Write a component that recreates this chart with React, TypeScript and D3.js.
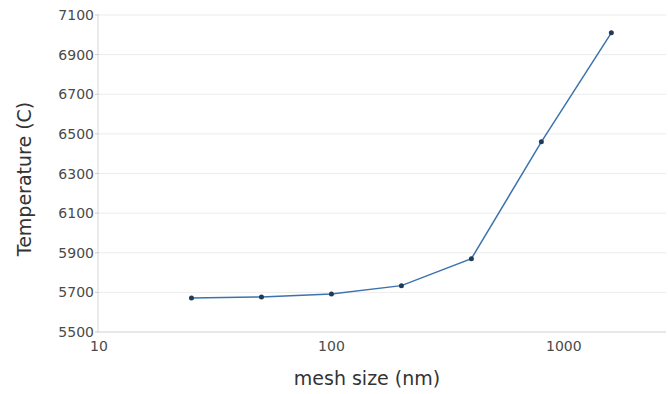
import React from "react";
import * as d3 from "d3";

const meshSizes = [25, 50, 100, 200, 400, 800, 1600];
const temperatures = [5672, 5677, 5692, 5734, 5870, 6460, 7010];
const yTicks = [5500, 5700, 5900, 6100, 6300, 6500, 6700, 6900, 7100];
const xTicks = [10, 100, 1000];

const W = 668;
const H = 394;
const left = 99;
const right = 666;
const top = 15;
const bottom = 332;

export default function App() {
  const x = d3.scaleLog().domain([10, 2750]).range([left, right]);
  const y = d3.scaleLinear().domain([5500, 7100]).range([bottom, top]);
  const pts = meshSizes.map((m, i) => [x(m), y(temperatures[i])] as [number, number]);
  const line = d3.line()(pts) || "";
  const font = "'DejaVu Sans', sans-serif";
  return (
    <svg width={W} height={H} style={{ position: "absolute", left: 0, top: 0, background: "#fff" }}>
      {yTicks.map((t) => (
        <g key={t}>
          <line x1={left} x2={right} y1={y(t)} y2={y(t)} stroke={t === 5500 ? "#d0d0d0" : "#ececec"} strokeWidth={1} />
          <line x1={left - 4} x2={left} y1={y(t)} y2={y(t)} stroke="#ccc" />
          <text x={left - 5} y={y(t)} dy="0.36em" textAnchor="end" fontFamily={font} fontSize={14} fill="#4a4a4a">
            {t}
          </text>
        </g>
      ))}
      <line x1={left - 1} x2={left - 1} y1={top} y2={bottom} stroke="#d6d6d6" />
      {xTicks.map((t) => (
        <text key={t} x={x(t)} y={bottom + 19} textAnchor="middle" fontFamily={font} fontSize={14} fill="#4a4a4a">
          {t}
        </text>
      ))}
      <path d={line} fill="none" stroke="#3d73ad" strokeWidth={1.5} />
      {pts.map((p, i) => (
        <circle key={i} cx={p[0]} cy={p[1]} r={2.5} fill="#1f3b5c" />
      ))}
      <text x={367} y={385} textAnchor="middle" fontFamily={font} fontSize={19} fill="#333">
        mesh size (nm)
      </text>
      <text
        transform={`translate(31,179) rotate(-90)`}
        textAnchor="middle"
        fontFamily={font}
        fontSize={19}
        fill="#333"
      >
        Temperature (C)
      </text>
    </svg>
  );
}
